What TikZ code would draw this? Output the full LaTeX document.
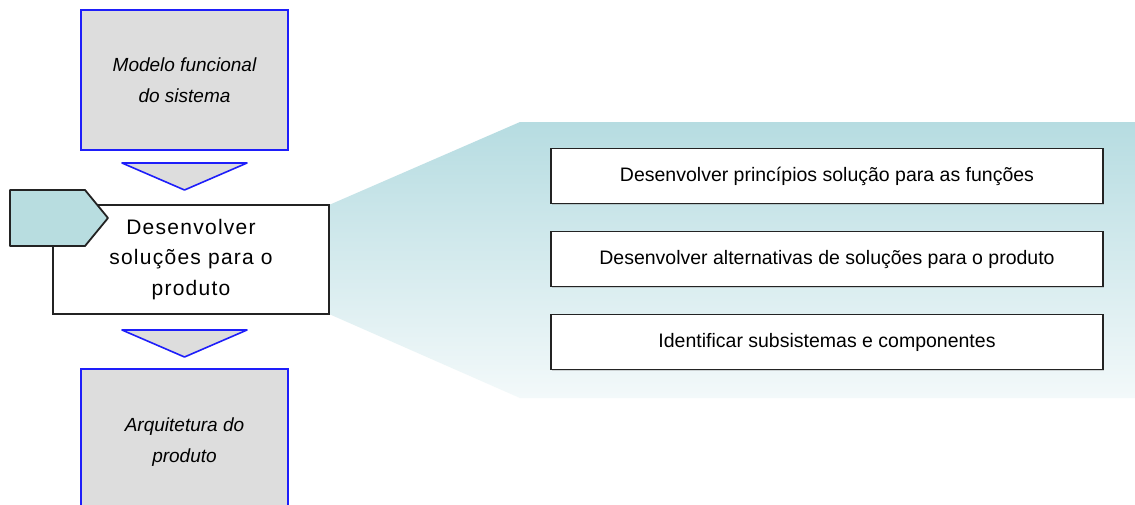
\documentclass[tikz,border=0pt]{standalone}
\usepackage{fontspec}
\setmainfont{Liberation Sans}
\usetikzlibrary{shadows}
\definecolor{edgeblue}{RGB}{30,30,250}
\definecolor{panelgray}{RGB}{221,221,221}
\definecolor{tabteal}{RGB}{184,221,224}
\definecolor{bandtop}{RGB}{182,220,225}
\definecolor{bandbottom}{RGB}{243,249,250}
\definecolor{outline}{RGB}{35,35,35}
\begin{document}
\begin{tikzpicture}[x=1pt,y=-1pt,
  grayblock/.style={draw=edgeblue, line width=1.6pt, fill=panelgray,
    minimum width=207pt, align=center, inner sep=0pt,
    font=\itshape\fontsize{19}{30.5}\selectfont},
  stagebox/.style={draw=outline, line width=1.6pt, fill=white,
    minimum width=276pt, minimum height=109pt, align=center, inner sep=0pt,
    drop shadow={opacity=0.3, shadow xshift=1.2pt, shadow yshift=-1.2pt},
    font=\fontsize{21}{30.5}\selectfont\addfontfeatures{LetterSpace=6}},
  taskbox/.style={draw=outline, line width=1.5pt, fill=white,
    minimum width=552pt, minimum height=55pt, inner sep=0pt,
    drop shadow={opacity=0.3, shadow xshift=1pt, shadow yshift=-1pt},
    font=\fontsize{19.5}{22}\selectfont},
  flowtri/.style={draw=edgeblue, line width=1.6pt, fill=panelgray, line join=round},
  tab/.style={draw=outline, line width=1.8pt, fill=tabteal, line join=round}
]
\useasboundingbox (0,0) rectangle (1135,504);
\fill[white] (0,0) rectangle (1135,504);

% expanded view of the stage
\shade[top color=bandtop, bottom color=bandbottom]
  (329,205) -- (520,122) -- (1135,122) -- (1135,398) -- (520,398) -- (329,314) -- cycle;

% input and output models
\node[grayblock, minimum height=140pt] (model) at (184.5,80)
  {Modelo funcional\\do sistema};
\node[grayblock, minimum height=146pt] (arch) at (184.5,442)
  {Arquitetura do\\produto};

% stage
\node[stagebox] (stage) at (191,259.5) {Desenvolver\\soluções para o\\produto};

% flow triangles between blocks
\coordinate (t1a) at (122,163);
\coordinate (t1b) at (247,163);
\coordinate (t1c) at (184.5,190);
\filldraw[flowtri] (t1a) -- (t1b) -- (t1c) -- cycle;
\coordinate (t2a) at (122,330);
\coordinate (t2b) at (247,330);
\coordinate (t2c) at (184.5,357);
\filldraw[flowtri] (t2a) -- (t2b) -- (t2c) -- cycle;

% stage tab
\filldraw[tab] (10,190) -- (85,190) -- (108,218) -- (85,246) -- (10,246) -- cycle;

% tasks of the stage
\node[taskbox] (task1) at (827,176) {Desenvolver princípios solução para as funções};
\node[taskbox] (task2) at (827,259) {Desenvolver alternativas de soluções para o produto};
\node[taskbox] (task3) at (827,342) {Identificar subsistemas e componentes};
\end{tikzpicture}
\end{document}
